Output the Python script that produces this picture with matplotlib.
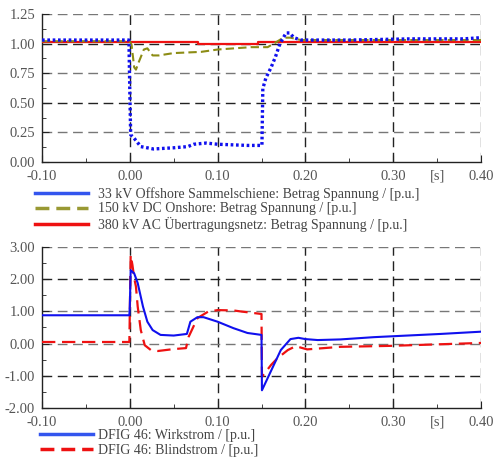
import matplotlib
matplotlib.use("Agg")
import matplotlib.pyplot as plt
from matplotlib.lines import Line2D

plt.rcParams['font.family'] = ['Liberation Serif', 'DejaVu Serif']

# ---- Upper panel: voltage magnitudes [p.u.] ----
t_u33 = [-0.10, -0.001, 0.0, 0.001, 0.005, 0.0125, 0.027, 0.05, 0.066, 0.073, 0.087,
         0.10, 0.134, 0.1505, 0.1515, 0.155, 0.161, 0.166, 0.171, 0.178, 0.182,
         0.187, 0.195, 0.25, 0.32, 0.38, 0.40]
u33 = [1.03, 1.03, 0.60, 0.23, 0.20, 0.13, 0.11, 0.12, 0.13, 0.15, 0.16,
       0.15, 0.14, 0.14, 0.62, 0.71, 0.80, 0.89, 1.00, 1.09, 1.09,
       1.05, 1.03, 1.03, 1.04, 1.04, 1.05]

t_u150 = [-0.10, 0.0, 0.002, 0.005, 0.007, 0.010, 0.016, 0.020, 0.026, 0.033, 0.05,
          0.081, 0.10, 0.138, 0.157, 0.164, 0.175, 0.183, 0.195, 0.25, 0.40]
u150 = [1.02, 1.02, 0.99, 0.80, 0.78, 0.84, 0.95, 0.96, 0.90, 0.90, 0.92,
        0.93, 0.95, 0.97, 0.97, 1.00, 1.05, 1.05, 1.03, 1.03, 1.03]

t_u380 = [-0.10, 0.078, 0.078, 0.146, 0.146, 0.40]
u380 = [1.01, 1.01, 1.00, 1.00, 1.01, 1.01]

# ---- Lower panel: DFIG 46 currents [p.u.] ----
t_iw = [-0.10, -0.0005, 0.0, 0.001, 0.005, 0.009, 0.015, 0.020, 0.026, 0.035, 0.05,
        0.062, 0.065, 0.069, 0.077, 0.084, 0.10, 0.118, 0.134, 0.150, 0.1505,
        0.172, 0.183, 0.192, 0.200, 0.214, 0.24, 0.278, 0.316, 0.354, 0.40]
iw = [0.88, 0.88, 1.15, 2.28, 2.18, 1.88, 1.15, 0.68, 0.42, 0.27, 0.25,
      0.29, 0.30, 0.68, 0.82, 0.82, 0.68, 0.48, 0.33, 0.27, -1.45,
      -0.20, 0.14, 0.18, 0.14, 0.11, 0.13, 0.20, 0.25, 0.30, 0.37]

t_ib = [-0.10, -0.0005, 0.001, 0.003, 0.005, 0.007, 0.009, 0.0125, 0.017, 0.024,
        0.032, 0.05, 0.064, 0.067, 0.077, 0.089, 0.10, 0.118, 0.126, 0.150, 0.1505,
        0.161, 0.168, 0.180, 0.189, 0.202, 0.24, 0.297, 0.40]
ib = [0.05, 0.05, 2.75, 2.44, 2.04, 1.77, 1.15, 0.42, -0.05, -0.20,
      -0.23, -0.17, -0.14, 0.21, 0.79, 0.99, 1.04, 1.03, 1.00, 0.92, -1.03,
      -0.66, -0.46, -0.20, -0.08, -0.18, -0.10, -0.07, 0.02]

x_ticks = [-0.10, 0.00, 0.10, 0.20, 0.30, 0.40]
x_labels = ['-0.10', '0.00', '0.10', '0.20', '0.30', '0.40']
y_ticks_top = [0.00, 0.25, 0.50, 0.75, 1.00, 1.25]
y_ticks_bot = [-2.00, -1.00, 0.00, 1.00, 2.00, 3.00]

legend_top = ['33 kV Offshore Sammelschiene: Betrag Spannung / [p.u.]',
              '150 kV DC Onshore: Betrag Spannung / [p.u.]',
              '380 kV AC Übertragungsnetz: Betrag Spannung / [p.u.]']
legend_bot = ['DFIG 46: Wirkstrom / [p.u.]', 'DFIG 46: Blindstrom / [p.u.]']

TXT = '#555555'
DASH = (0, (7, 4))
XPAD = 5.5

fig = plt.figure(figsize=(4.93, 4.59), dpi=100)
ax1 = fig.add_axes([42 / 493, 1 - 162 / 459, 439 / 493, 148 / 459])
ax2 = fig.add_axes([42 / 493, 1 - 408 / 459, 439 / 493, 161 / 459])


def style_axes(ax, yticks, hcolors, minor_y):
    ax.set_xlim(-0.10, 0.40)
    ax.set_ylim(yticks[0], yticks[-1])
    for s in ('top', 'right'):
        ax.spines[s].set_visible(False)
    for s in ('left', 'bottom'):
        ax.spines[s].set_color('#222222')
        ax.spines[s].set_linewidth(1.0)
    for xv in x_ticks[1:]:
        ax.axvline(xv, color='#222222' if xv < 0.35 else '#666666',
                   lw=1.0, ls=DASH, zorder=1)
    for yv, c in zip(yticks[1:], hcolors):
        ax.axhline(yv, color=c, lw=1.0, ls=DASH, zorder=1)
    ax.set_xticks(x_ticks)
    ax.set_xticklabels(x_labels)
    ax.set_xticks([-0.05, 0.05, 0.15, 0.25, 0.35], minor=True)
    ax.set_yticks(yticks)
    ax.set_yticklabels(['{:.2f}'.format(v) for v in yticks])
    ax.set_yticks(minor_y, minor=True)
    ax.tick_params(which='both', direction='in', colors='#222222',
                   labelcolor=TXT, labelsize=10.5)
    ax.tick_params(which='major', length=5)
    ax.tick_params(axis='x', which='major', pad=XPAD)
    ax.tick_params(axis='y', which='major', pad=5)
    ax.tick_params(which='minor', length=3)
    ax.annotate('[s]', xy=(0.35, 0), xycoords=ax.get_xaxis_transform(),
                xytext=(0, -XPAD), textcoords='offset points',
                ha='center', va='top', color=TXT, fontsize=10.5)


style_axes(ax1, y_ticks_top,
           ['#777777', '#222222', '#777777', '#222222', '#777777'],
           [0.125, 0.375, 0.625, 0.875, 1.125])
style_axes(ax2, y_ticks_bot,
           ['#222222', '#777777', '#777777', '#222222', '#777777'],
           [-1.5, -0.5, 0.5, 1.5, 2.5])

c_blue = '#1010ee'
c_olive = '#8c8c14'
c_red = '#ee1111'

ax1.plot(t_u380, u380, color=c_red, lw=1.6, zorder=3)
ax1.plot(t_u150, u150, color=c_olive, lw=1.5, ls=(0, (4, 2)), zorder=4)
ax1.plot(t_u33, u33, color=c_blue, lw=2.4, ls=(0, (0.8, 0.8)), zorder=5)

ax2.plot(t_ib, ib, color=c_red, lw=1.6, ls=(0, (6, 3)), zorder=4)
ax2.plot(t_iw, iw, color=c_blue, lw=1.5, zorder=5)

h_top = [Line2D([], [], color='#3355ee', lw=2.5),
         Line2D([], [], color='#999933', lw=2.5, ls=(0, (4, 2))),
         Line2D([], [], color='#ee1111', lw=2.5)]
h_bot = [Line2D([], [], color='#3355ee', lw=2.5),
         Line2D([], [], color='#ee1111', lw=2.5, ls=(0, (4, 2)))]

leg_kw = dict(frameon=False, fontsize=10, handlelength=3.8,
              borderpad=0, borderaxespad=0, labelcolor='#444444')
fig.legend(h_top, legend_top, loc='upper left', handletextpad=0.75,
           labelspacing=0.12,
           bbox_to_anchor=(35 / 493, 1 - 187 / 459), **leg_kw)
fig.legend(h_bot, legend_bot, loc='upper left', handletextpad=0.4,
           labelspacing=0.2,
           bbox_to_anchor=(40 / 493, 1 - 428.5 / 459), **leg_kw)

fig.savefig('out.png', dpi=100)
